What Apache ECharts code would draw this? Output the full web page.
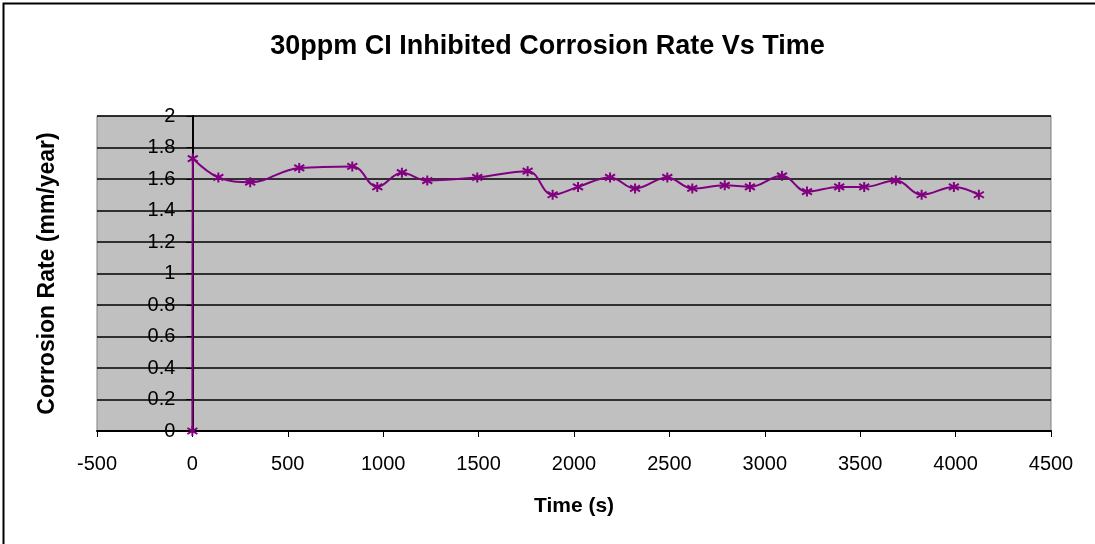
<!DOCTYPE html>
<html>
<head>
<meta charset="utf-8">
<script src="https://cdn.jsdelivr.net/npm/echarts@6/dist/echarts.min.js"></script>
<style>
html, body { margin: 0; padding: 0; background: #fff; }
#chart { width: 1095px; height: 544px; }
</style>
</head>
<body>
<div id="chart"></div>
<script>
// time (s) and corrosion rate (mm/year)
var timeSec = [0, 2, 136, 303, 560, 838, 969, 1098, 1231, 1493, 1757, 1888, 2021, 2189, 2320,
	2489, 2620, 2790, 2922, 3090, 3221, 3390, 3521, 3687, 3822, 3991, 4122];
var rateVals = [0, 1.73, 1.61, 1.58, 1.67, 1.68, 1.55, 1.64, 1.59, 1.61, 1.65, 1.50, 1.55, 1.61, 1.54,
	1.61, 1.54, 1.56, 1.55, 1.62, 1.52, 1.55, 1.55, 1.59, 1.50, 1.55, 1.50];
var xTicks = [-500, 4500, 500];
var yTicks = [0, 2, 0.2];

var points = [];
for (let i = 0; i < timeSec.length; i++) {
	points.push([timeSec[i], rateVals[i]]);
}

var gridLeft = 97;
var gridRight = 44;
var plotWidth = 1095 - gridLeft - gridRight;
// y axis crosses at time 0, so shift it into the plot
var yAxisShift = plotWidth * (0 - xTicks[0]) / (xTicks[1] - xTicks[0]);

var myChart = echarts.init(document.getElementById('chart'));
var option = {
	backgroundColor: '#fff',
	animation: false,
	title: {
		text: '30ppm CI Inhibited Corrosion Rate Vs Time',
		left: 'center',
		top: 28,
		textStyle: {
			fontFamily: 'Liberation Sans, Arial',
			fontSize: 27,
			fontWeight: 'bold',
			color: '#000'
		}
	},
	graphic: [
		{
			type: 'rect',
			shape: { x: 3.5, y: 3.5, width: 1200, height: 700 },
			style: { fill: 'none', stroke: '#000', lineWidth: 2 },
			silent: true
		}
	],
	grid: {
		left: gridLeft,
		right: gridRight,
		top: 116,
		bottom: 113,
		outerBoundsMode: 'none',
		containLabel: false,
		show: true,
		backgroundColor: '#C0C0C0',
		borderColor: '#808080',
		borderWidth: 1
	},
	xAxis: {
		type: 'value',
		min: xTicks[0],
		max: xTicks[1],
		interval: xTicks[2],
		name: 'Time (s)',
		nameLocation: 'middle',
		nameGap: 65,
		nameTextStyle: {
			fontFamily: 'Liberation Sans, Arial',
			fontSize: 21,
			fontWeight: 'bold',
			color: '#000'
		},
		axisLine: { onZero: false, lineStyle: { color: '#000', width: 2 } },
		axisTick: { show: true, length: 6, lineStyle: { color: '#000' } },
		axisLabel: {
			fontFamily: 'Liberation Sans, Arial',
			fontSize: 20,
			color: '#000',
			margin: 23,
			formatter: function(v) { return String(v); }
		},
		splitLine: { show: false }
	},
	yAxis: {
		type: 'value',
		min: yTicks[0],
		max: yTicks[1],
		interval: yTicks[2],
		offset: -yAxisShift,
		name: 'Corrosion Rate (mm/year)',
		nameLocation: 'middle',
		nameGap: 133,
		nameTextStyle: {
			fontFamily: 'Liberation Sans, Arial',
			fontSize: 23,
			fontWeight: 'bold',
			color: '#000'
		},
		axisLine: { onZero: false, lineStyle: { color: '#000', width: 2 } },
		axisTick: { show: true, length: 6, lineStyle: { color: '#000' } },
		axisLabel: {
			fontFamily: 'Liberation Sans, Arial',
			fontSize: 20,
			color: '#000',
			margin: 17,
			formatter: function(v) { return String(Math.round(v * 10) / 10); }
		},
		splitLine: { show: true, lineStyle: { color: '#000', width: 1.5 } }
	},
	series: [
		{
			name: 'Corrosion Rate',
			type: 'line',
			data: points,
			smooth: 0.4,
			lineStyle: { color: '#800080', width: 2 },
			symbol: 'path://M10,0 L10,20 M2,4 L18,16 M2,16 L18,4',
			symbolSize: 10,
			itemStyle: { color: 'none', borderColor: '#800080', borderWidth: 2 },
			z: 5
		}
	]
};
myChart.setOption(option);
</script>
</body>
</html>
